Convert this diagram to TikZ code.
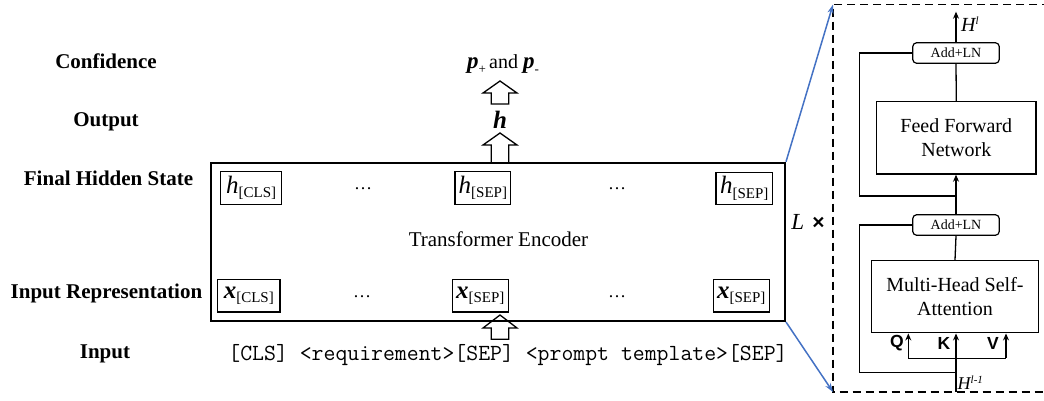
\documentclass[tikz,border=0pt]{standalone}
\usepackage{fontspec}
\setmainfont{Liberation Serif}
\newfontfamily\arialf{Liberation Sans}
\usetikzlibrary{arrows.meta}
\definecolor{linkblue}{RGB}{68,114,196}
\newcommand{\blockup}[5][fill=white]{\draw[line width=1.3pt,#1] (#2-8.7,#5) -- (#2-8.7,#4) -- (#2-17,#4) -- (#2,#3) -- (#2+17,#4) -- (#2+8.7,#4) -- (#2+8.7,#5) -- cycle;}
\newcommand{\tokh}[1]{{\fontsize{25}{25}\selectfont\itshape h}\raisebox{-4.5pt}{\fontsize{15}{15}\selectfont #1}}
\newcommand{\tokx}[1]{{\fontsize{25}{25}\selectfont\bfseries\itshape x}\raisebox{-4.5pt}{\fontsize{15}{15}\selectfont #1}}
\begin{document}
\begin{tikzpicture}[x=1pt,y=-1pt,
  lbl/.style={font=\fontsize{21}{21}\selectfont\bfseries, anchor=base, inner sep=0pt},
  tok/.style={draw, line width=1.2pt, inner sep=0pt, minimum height=32.5pt},
  dots/.style={font=\fontsize{18}{18}\selectfont, anchor=base, inner sep=0pt},
  addln/.style={draw, line width=1.2pt, rounded corners=4pt, minimum width=86.6pt, minimum height=20.6pt, inner sep=0pt, font=\fontsize{14}{14}\selectfont},
  blk/.style={draw, line width=1.5pt, inner sep=0pt, align=center, font=\fontsize{20}{24}\selectfont},
  wire/.style={line width=1.3pt},
  arr/.style={line width=1.3pt, -{Stealth[length=7pt,width=6pt]}},
  blue/.style={draw=linkblue, line width=1.5pt, -{Stealth[length=9pt,width=6pt]}},
  qkv/.style={font=\arialf\fontsize{17.5}{17.5}\selectfont\bfseries, inner sep=0pt}
]
\useasboundingbox (0,0) rectangle (1044,400);

% left labels
\node[lbl] (lconf) at (106,68.3) {Confidence};
\node[lbl] (lout) at (106,126) {Output};
\node[lbl] (lfhs) at (108.5,185) {Final Hidden State};
\node[lbl] (lir) at (106.5,298) {Input Representation};
\node[lbl] (lin) at (105,358) {Input};

% encoder box
\node[draw, line width=2pt, minimum width=574pt, minimum height=158.3pt, inner sep=0pt] (enc) at (498,241.85) {};
\node[font=\fontsize{21}{21}\selectfont, anchor=base, inner sep=0pt] (enctxt) at (498.5,246.7) {Transformer Encoder};

% hidden states
\node[tok, minimum width=61pt] (h1) at (251.2,187.9) {\tokh{[CLS]}};
\node[tok, minimum width=55.7pt] (h2) at (482.9,187.9) {\tokh{[SEP]}};
\node[tok, minimum width=56.3pt] (h3) at (744.2,188.4) {\tokh{[SEP]}};
\node[dots] (hd1) at (363,189.5) {…};
\node[dots] (hd2) at (617,189.5) {…};

% input representations
\node[tok, minimum width=62.3pt] (x1) at (248.8,295.8) {\tokx{[CLS]}};
\node[tok, minimum width=56pt] (x2) at (480.3,295.8) {\tokx{[SEP]}};
\node[tok, minimum width=56pt] (x3) at (741.3,295.8) {\tokx{[SEP]}};
\node[dots] (xd1) at (362,297.5) {…};
\node[dots] (xd2) at (617,297.5) {…};

% input text
\node[font=\ttfamily\fontsize{23.1}{23}\selectfont, anchor=base, inner sep=0pt] (intext) at (508,360) {[CLS] <requirement>[SEP] <prompt template>[SEP]};

% output and confidence
\node[font=\fontsize{25}{25}\selectfont\bfseries\itshape, anchor=base, inner sep=0pt] (hout) at (500,128) {h};
\node[font=\fontsize{20}{20}\selectfont, anchor=base, inner sep=0pt] (conf) at (503,68.3) {{\fontsize{23}{23}\selectfont\bfseries\itshape p}\raisebox{-5pt}{\fontsize{13}{13}\selectfont +}\,and {\fontsize{23}{23}\selectfont\bfseries\itshape p}\raisebox{-5pt}{\fontsize{13}{13}\selectfont -}};

% block arrows
\blockup{500}{81}{93}{104}
\blockup{500}{133}{145}{162.7}
\blockup[]{500}{315}{328}{339.3}

% right panel: dashed frame
\coordinate (dtl) at (833,4.5);
\coordinate (dbl) at (833,392);
\draw[line width=1.8pt, dash pattern=on 8pt off 5pt] (1050,4.5) -- (dtl) -- (dbl) -- (1050,392);
\draw[blue] (enc.north east) -- (dtl);
\draw[blue] (enc.south east) -- (dbl);
\node[inner sep=0pt] (lx) at (808,222) {{\fontsize{23}{23}\selectfont\itshape L}\hspace{8pt}{\arialf\fontsize{21}{21}\selectfont\bfseries ×}};

% blocks
\node[addln] (add2) at (956,53) {Add+LN};
\node[addln] (add1) at (956,225) {Add+LN};
\node[blk, minimum width=159.3pt, minimum height=72.3pt] (ffn) at (956.3,137.8) {Feed Forward\\Network};
\node[blk, minimum width=166.6pt, minimum height=72pt] (mhsa) at (955,296.7) {Multi-Head Self-\\Attention};

% top output
\coordinate (hlout) at (956,11.7);
\draw[arr] (add2.north) -- (hlout);
\node[anchor=west, inner sep=0pt] (hl) at (961,24) {{\fontsize{20}{20}\selectfont\itshape H}\raisebox{7pt}{\fontsize{11}{11}\selectfont\itshape l}};

% FFN sublayer
\draw[wire] (ffn.north) -- (add2.south);
\coordinate (r2a) at (859.3,53);
\coordinate (r2b) at (859.3,196);
\coordinate (r2c) at (956,196);
\draw[wire] (add2.west) -- (r2a) -- (r2b) -- (r2c);
\draw[arr] (add1.north) -- (add1.north |- ffn.south);

% MHSA sublayer
\draw[wire] (mhsa.north) -- (add1.south);
\coordinate (r1a) at (859.3,225);
\coordinate (r1b) at (859.3,372.7);
\coordinate (r1c) at (956,372.7);
\draw[wire] (add1.west) -- (r1a) -- (r1b) -- (r1c);

\coordinate (hin) at (956,392);
\draw[arr] (hin) -- (hin |- mhsa.south);
\coordinate (qb) at (908.3,358.3);
\coordinate (vb) at (1006,358.3);
\draw[wire] (qb) -- (vb);
\draw[arr] (qb) -- (qb |- mhsa.south);
\draw[arr] (vb) -- (vb |- mhsa.south);
\node[qkv] (q) at (897,343) {Q};
\node[qkv] (k) at (944,343) {K};
\node[qkv] (v) at (993,343) {V};
\node[anchor=west, inner sep=0pt] (hlin) at (957.5,383) {{\fontsize{18}{18}\selectfont\itshape H}\raisebox{6pt}{\fontsize{11}{11}\selectfont\itshape l-1}};
\end{tikzpicture}
\end{document}
